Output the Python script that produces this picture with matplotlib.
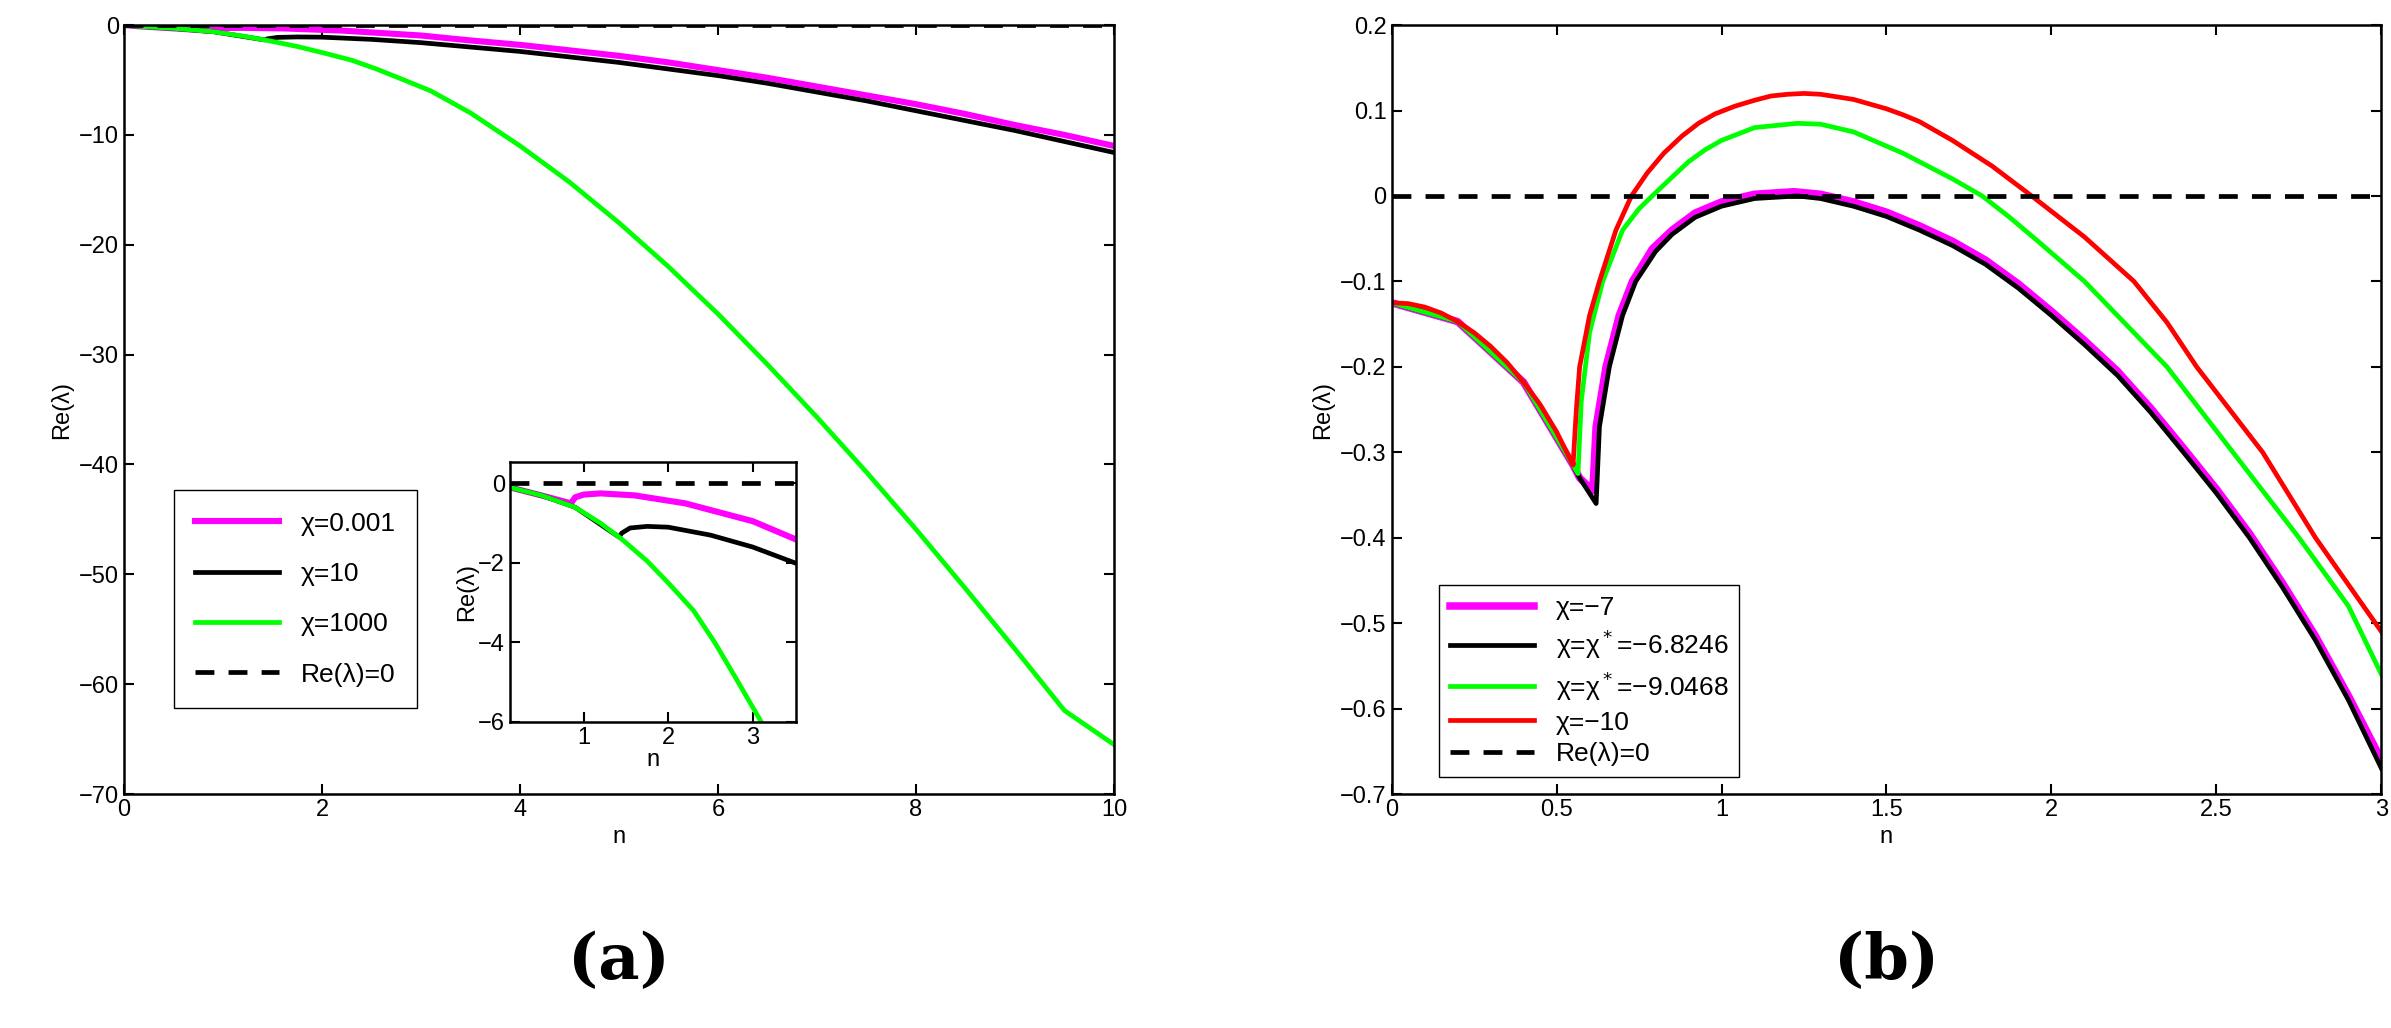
import numpy as np
import matplotlib.pyplot as plt

plt.rcParams['font.family'] = ['Liberation Sans', 'DejaVu Sans']
plt.rcParams['mathtext.fontset'] = 'dejavusans'

# ---- panel (a) data ----
n_green = [0.0, 0.13, 0.5, 0.9, 1.2, 1.45, 1.75, 2.0, 2.3, 2.55, 2.8, 3.1, 3.5, 4.0, 4.5, 5.0, 5.5, 6.0,
           6.5, 7.0, 7.5, 8.0, 8.5, 9.0, 9.5, 10.0]
re_green = [0.0, -0.1, -0.3, -0.6, -1.0, -1.4, -1.95, -2.5, -3.2, -4.0, -4.9, -6.0, -8.0, -11.0, -14.3,
            -18.0, -22.0, -26.3, -30.9, -35.7, -40.7, -45.9, -51.3, -56.8, -62.4, -65.5]
n_mag = [0.0, 0.13, 0.5, 0.85, 0.9, 1.0, 1.2, 1.6, 2.2, 3.0, 3.5, 4, 4.5, 5, 5.5, 6, 6.5, 7, 7.5, 8, 8.5,
         9, 9.5, 10]
re_mag = [0.0, -0.1, -0.3, -0.5, -0.35, -0.28, -0.25, -0.3, -0.5, -0.95, -1.4, -1.8, -2.3, -2.8, -3.4,
          -4.1, -4.8, -5.6, -6.4, -7.2, -8.1, -9.1, -10.0, -11.0]
n_blk = [0.0, 0.13, 0.5, 0.9, 1.42, 1.45, 1.55, 1.75, 2.0, 2.5, 3.0, 3.5, 4, 4.5, 5, 5.5, 6, 6.5, 7, 7.5,
         8, 8.5, 9, 9.5, 10]
re_blk = [0.0, -0.1, -0.3, -0.6, -1.35, -1.25, -1.12, -1.08, -1.1, -1.3, -1.6, -2.0, -2.4, -2.9, -3.4,
          -4.0, -4.6, -5.3, -6.1, -6.9, -7.8, -8.7, -9.6, -10.6, -11.6]

# ---- panel (b) data ----
n_red = [0.0, 0.05, 0.1, 0.15, 0.2, 0.25, 0.3, 0.35, 0.4, 0.45, 0.5, 0.55, 0.56, 0.57, 0.6, 0.63, 0.68,
         0.727, 0.775, 0.825, 0.88, 0.93, 0.98, 1.04, 1.1, 1.15, 1.2, 1.25, 1.3, 1.4, 1.5, 1.55, 1.6, 1.7,
         1.82, 1.94, 2.1, 2.25, 2.35, 2.44, 2.54, 2.64, 2.72, 2.8, 2.9, 3.0]
re_red = [-0.125, -0.126, -0.13, -0.137, -0.147, -0.16, -0.176, -0.195, -0.218, -0.244, -0.276, -0.315,
          -0.25, -0.2, -0.14, -0.1, -0.04, 0.0, 0.027, 0.05, 0.07, 0.085, 0.096, 0.105, 0.112, 0.117,
          0.119, 0.12, 0.119, 0.113, 0.102, 0.095, 0.087, 0.065, 0.035, 0.0, -0.048, -0.1, -0.148, -0.2,
          -0.25, -0.3, -0.35, -0.4, -0.455, -0.51]
n_grn = [0.0, 0.2, 0.4, 0.55, 0.565, 0.575, 0.6, 0.64, 0.7, 0.75, 0.79, 0.85, 0.9, 0.95, 1.0, 1.1, 1.23,
         1.3, 1.4, 1.55, 1.7, 1.79, 1.87, 1.95, 2.1, 2.22, 2.35, 2.45, 2.55, 2.65, 2.75, 2.9, 3.0]
re_grn = [-0.125, -0.147, -0.218, -0.315, -0.325, -0.24, -0.16, -0.1, -0.04, -0.015, 0.0, 0.022, 0.04,
          0.054, 0.065, 0.08, 0.085, 0.084, 0.075, 0.05, 0.02, 0.0, -0.024, -0.05, -0.1, -0.148, -0.2,
          -0.25, -0.3, -0.35, -0.4, -0.48, -0.56]
n_blk_b = [0.0, 0.2, 0.4, 0.55, 0.57, 0.62, 0.63, 0.66, 0.7, 0.74, 0.8, 0.85, 0.92, 1.0, 1.1, 1.23, 1.3,
           1.4, 1.5, 1.6, 1.7, 1.8, 1.9, 2.0, 2.1, 2.2, 2.3, 2.4, 2.5, 2.6, 2.7, 2.8, 2.9, 3.0]
re_blk_b = [-0.125, -0.147, -0.218, -0.315, -0.33, -0.36, -0.27, -0.2, -0.14, -0.1, -0.065, -0.045,
            -0.025, -0.012, -0.003, 0.0, -0.003, -0.012, -0.024, -0.04, -0.058, -0.08, -0.108, -0.14,
            -0.174, -0.21, -0.253, -0.3, -0.348, -0.4, -0.458, -0.52, -0.59, -0.67]
n_mag_b = [0.0, 0.2, 0.4, 0.55, 0.57, 0.61, 0.62, 0.65, 0.69, 0.73, 0.79, 0.85, 0.92, 1.0, 1.1, 1.22,
           1.3, 1.4, 1.5, 1.6, 1.7, 1.8, 1.9, 2.0, 2.1, 2.2, 2.3, 2.4, 2.5, 2.6, 2.7, 2.8, 2.9, 3.0]
re_mag_b = [-0.125, -0.147, -0.218, -0.315, -0.33, -0.345, -0.27, -0.2, -0.14, -0.1, -0.062, -0.04,
            -0.02, -0.007, 0.002, 0.005, 0.002, -0.007, -0.019, -0.035, -0.053, -0.075, -0.103, -0.135,
            -0.169, -0.205, -0.248, -0.295, -0.343, -0.395, -0.453, -0.515, -0.585, -0.66]

MAG, GRN, RED = '#ff00ff', '#00ff00', '#ff0000'
LW = 3.4
FS = 17

fig = plt.figure(figsize=(23.91, 10.28), dpi=100)

# ---- (a) ----
ax1 = fig.add_axes([0.0519, 0.2276, 0.414, 0.748])
ax1.plot(n_mag, re_mag, color=MAG, lw=LW + 1, label='χ=0.001')
ax1.plot(n_blk, re_blk, color='black', lw=LW, label='χ=10')
ax1.plot(n_green, re_green, color=GRN, lw=LW, label='χ=1000')
ax1.axhline(0, color='black', ls='--', lw=LW, dashes=(4, 3), label='Re(λ)=0')
ax1.set_xlim(0, 10)
ax1.set_ylim(-70, 0)
ax1.set_xlabel('n', fontsize=FS)
ax1.set_ylabel('Re(λ)', fontsize=FS)
ax1.legend(loc='lower left', bbox_to_anchor=(0.037, 0.095), fontsize=FS + 2, handlelength=3.2,
           labelspacing=1.0, fancybox=False, edgecolor='black', framealpha=1, borderpad=0.8)

ins = fig.add_axes([0.2133, 0.2977, 0.1196, 0.2529])
ins.plot(n_mag, re_mag, color=MAG, lw=LW + 1)
ins.plot(n_blk, re_blk, color='black', lw=LW)
ins.plot(n_green, re_green, color=GRN, lw=LW)
ins.axhline(0, color='black', ls='--', lw=LW, dashes=(4, 3))
ins.set_xlim(0.13, 3.51)
ins.set_ylim(-6, 0.54)
ins.set_xticks([1, 2, 3])
ins.set_yticks([0, -2, -4, -6])
ins.set_xlabel('n', fontsize=FS, labelpad=0)
ins.set_ylabel('Re(λ)', fontsize=FS, labelpad=0)

# ---- (b) ----
ax2 = fig.add_axes([0.582, 0.2276, 0.414, 0.748])
ax2.plot(n_mag_b, re_mag_b, color=MAG, lw=LW + 2, label='χ=−7')
ax2.plot(n_blk_b, re_blk_b, color='black', lw=LW, label='χ=χ$^*$=−6.8246')
ax2.plot(n_grn, re_grn, color=GRN, lw=LW, label='χ=χ$^*$=−9.0468')
ax2.plot(n_red, re_red, color=RED, lw=LW, label='χ=−10')
ax2.axhline(0, color='black', ls='--', lw=LW, dashes=(4, 3), label='Re(λ)=0')
ax2.set_xlim(0, 3)
ax2.set_ylim(-0.7, 0.2)
ax2.set_xticks([0, 0.5, 1, 1.5, 2, 2.5, 3])
ax2.set_xticklabels(['0', '0.5', '1', '1.5', '2', '2.5', '3'])
ax2.set_yticks(np.arange(-0.7, 0.21, 0.1))
ax2.set_yticklabels(['−0.7', '−0.6', '−0.5', '−0.4', '−0.3', '−0.2', '−0.1', '0', '0.1', '0.2'])
ax2.set_xlabel('n', fontsize=FS)
ax2.set_ylabel('Re(λ)', fontsize=FS)
ax2.legend(loc='lower left', bbox_to_anchor=(0.035, 0.005), fontsize=FS + 2, handlelength=3.2,
           labelspacing=0.3, fancybox=False, edgecolor='black', framealpha=1)

for a in (ax1, ins, ax2):
    a.tick_params(direction='in', top=True, right=True, labelsize=FS, width=1.5, length=7)
    for s in a.spines.values():
        s.set_linewidth(1.8)

fig.text(0.0519 + 0.207, 0.065, '(a)', ha='center', va='center', fontsize=46, fontweight='bold', family='DejaVu Serif')
fig.text(0.582 + 0.207, 0.065, '(b)', ha='center', va='center', fontsize=46, fontweight='bold', family='DejaVu Serif')

fig.savefig('out.png', dpi=100)
